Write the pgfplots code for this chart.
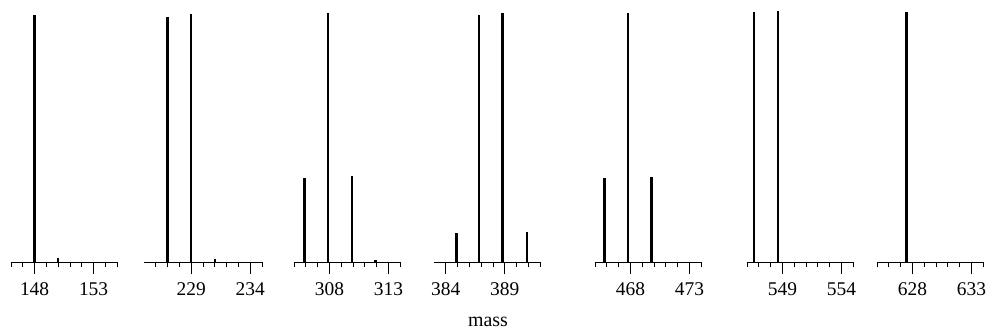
\documentclass[border=0pt]{standalone}
\usepackage{fontspec}
\setmainfont{Liberation Serif}
\usepackage{pgfplots}
\pgfplotsset{compat=1.18}

% common look of one stick-spectrum panel
\pgfplotsset{
  stickpanel/.style={
    scale only axis, anchor=south west,
    height=251bp, ymin=0, ymax=1,
    axis x line=bottom, axis y line=none,
    x axis line style={-, line width=0.8bp, black},
    tick align=outside,
    major tick length=12bp, minor tick length=5bp,
    tick style={black, line width=0.8bp},
    xticklabel style={font=\fontsize{19.5}{21}\selectfont, anchor=base, yshift=-21bp},
    /pgf/number format/assume math mode=true,
    /pgf/number format/1000 sep={},
    clip=false,
  },
  stick/.style={ycomb, black, line width=2.3bp, mark=none},
}

\begin{document}
\begin{tikzpicture}
\useasboundingbox (0bp,0bp) rectangle (986bp,330bp);

% panel 1
\begin{axis}[stickpanel, at={(11bp,68bp)}, width=106.2bp,
  xmin=146, xmax=155, xtick={148,153},
  minor xtick={146,147,149,150,151,152,154,155}]
\addplot[stick] coordinates {(148,0.984) (150,0.015)};
\end{axis}

% panel 2
\begin{axis}[stickpanel, at={(144bp,68bp)}, width=118bp,
  xmin=225, xmax=235, xtick={229,234},
  minor xtick={226,227,228,230,231,232,233,235}]
\addplot[stick] coordinates {(227,0.976) (229,0.988) (231,0.01)};
\end{axis}

% panel 3
\begin{axis}[stickpanel, at={(294bp,68bp)}, width=106.2bp,
  xmin=305, xmax=314, xtick={308,313},
  minor xtick={305,306,307,309,310,311,312,314}]
\addplot[stick] coordinates {(305.9,0.335) (307.9,0.992) (309.9,0.343) (311.9,0.008)};
\end{axis}

% panel 4
\begin{axis}[stickpanel, at={(434bp,68bp)}, width=106.2bp,
  xmin=383, xmax=392, xtick={384,389},
  minor xtick={385,386,387,388,390,391,392}]
\addplot[stick] coordinates {(384.9,0.116) (386.8,0.984) (388.8,0.992) (390.9,0.12)};
\end{axis}

% panel 5
\begin{axis}[stickpanel, at={(595bp,68bp)}, width=106.2bp,
  xmin=465, xmax=474, xtick={468,473},
  minor xtick={465,466,467,469,470,471,472,474}]
\addplot[stick] coordinates {(465.8,0.335) (467.8,0.992) (469.8,0.339)};
\end{axis}

% panel 6
\begin{axis}[stickpanel, at={(747bp,68bp)}, width=106.2bp,
  xmin=546, xmax=555, xtick={549,554},
  minor xtick={546,547,548,550,551,552,553,555}]
\addplot[stick] coordinates {(546.6,0.996) (548.6,1.0)};
\end{axis}

% panel 7
\begin{axis}[stickpanel, at={(877bp,68bp)}, width=106.2bp,
  xmin=625, xmax=634, xtick={628,633},
  minor xtick={625,626,627,629,630,631,632,634}]
\addplot[stick] coordinates {(627.5,0.996)};
\end{axis}

\node[anchor=base, font=\fontsize{20}{22}\selectfont] at (488bp,3.5bp) {mass};
\end{tikzpicture}
\end{document}
